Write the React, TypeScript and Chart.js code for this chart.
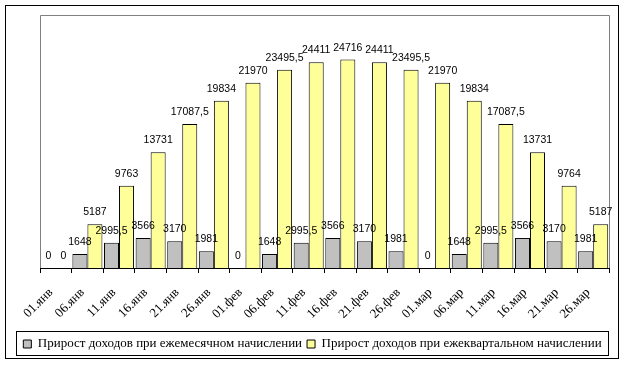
import React, { useEffect, useRef } from "react";
import { Chart, registerables } from "chart.js";

Chart.register(...registerables);

const categories = [
  "01.янв", "06.янв", "11.янв", "16.янв", "21.янв", "26.янв",
  "01.фев", "06.фев", "11.фев", "16.фев", "21.фев", "26.фев",
  "01.мар", "06.мар", "11.мар", "16.мар", "21.мар", "26.мар",
];

const monthlyGain = [0, 1648, 2995.5, 3566, 3170, 1981, 0, 1648, 2995.5, 3566, 3170, 1981, 0, 1648, 2995.5, 3566, 3170, 1981];
const quarterlyGain = [0, 5187, 9763, 13731, 17087.5, 19834, 21970, 23495.5, 24411, 24716, 24411, 23495.5, 21970, 19834, 17087.5, 13731, 9764, 5187];

const seriesNames = [
  "Прирост доходов при ежемесячном начислении",
  "Прирост доходов при ежеквартальном начислении",
];

const fmt = (v: number) => String(v).replace(".", ",");

const framePlugin = {
  id: "frame",
  beforeDraw(chart: any) {
    const { ctx, chartArea } = chart;
    ctx.save();
    ctx.fillStyle = "#ffffff";
    ctx.fillRect(0, 0, chart.width, chart.height);
    ctx.strokeStyle = "#000000";
    ctx.lineWidth = 1;
    ctx.strokeRect(5.5, 5.5, 613, 353);
    ctx.strokeStyle = "#808080";
    ctx.beginPath();
    ctx.moveTo(Math.round(chartArea.left) + 0.5, Math.round(chartArea.bottom));
    ctx.lineTo(Math.round(chartArea.left) + 0.5, Math.round(chartArea.top) + 0.5);
    ctx.lineTo(Math.round(chartArea.right) + 0.5, Math.round(chartArea.top) + 0.5);
    ctx.lineTo(Math.round(chartArea.right) + 0.5, Math.round(chartArea.bottom));
    ctx.stroke();
    ctx.restore();
  },
  afterDraw(chart: any) {
    const { ctx } = chart;
    ctx.save();
    ctx.strokeStyle = "#000000";
    ctx.lineWidth = 1;
    ctx.strokeRect(16.5, 331.5, 592, 24);
    ctx.restore();
  },
};

const labelPlugin = {
  id: "valueLabels",
  afterDatasetsDraw(chart: any) {
    const { ctx } = chart;
    ctx.save();
    ctx.font = "10.5px 'Liberation Sans'";
    ctx.fillStyle = "#000000";
    ctx.textAlign = "center";
    ctx.textBaseline = "alphabetic";
    chart.data.datasets.forEach((ds: any, di: number) => {
      const meta = chart.getDatasetMeta(di);
      meta.data.forEach((bar: any, i: number) => {
        const v = ds.data[i];
        ctx.fillText(fmt(v), bar.x, bar.y - 9);
      });
    });
    ctx.restore();
  },
};

export default function App() {
  const ref = useRef<HTMLCanvasElement>(null);
  useEffect(() => {
    if (!ref.current) return;
    const chart = new Chart(ref.current, {
      type: "bar",
      data: {
        labels: categories,
        datasets: [
          {
            label: seriesNames[0],
            data: monthlyGain,
            backgroundColor: "#C0C0C0",
            borderColor: "#000000",
            borderWidth: 1,
            categoryPercentage: 0.95,
            barPercentage: 1,
          },
          {
            label: seriesNames[1],
            data: quarterlyGain,
            backgroundColor: "#FFFF99",
            borderColor: "#000000",
            borderWidth: 1,
            categoryPercentage: 0.95,
            barPercentage: 1,
          },
        ],
      },
      options: {
        responsive: false,
        animation: false,
        layout: { padding: { left: 16, right: 16, top: 15, bottom: 4.5 } },
        plugins: {
          tooltip: { enabled: false },
          legend: {
            position: "bottom",
            labels: {
              boxWidth: 8,
              boxHeight: 8,
              padding: 5,
              color: "#000000",
              font: { family: "'Liberation Serif'", size: 13 },
            },
          },
        },
        scales: {
          x: {
            afterFit: (s: any) => {
              s.height = 64.5;
            },
            grid: {
              display: true,
              offset: true,
              drawOnChartArea: false,
              drawTicks: true,
              tickLength: 5,
              color: "#000000",
            },
            border: { display: true, color: "#000000" },
            ticks: {
              autoSkip: false,
              minRotation: 45,
              maxRotation: 45,
              padding: 12,
              labelOffset: -5,
              color: "#000000",
              font: { family: "'Liberation Serif'", size: 13 },
            },
          },
          y: {
            min: 0,
            max: 30000,
            afterFit: (s: any) => {
              s.width = 24;
            },
            grid: { display: false },
            border: { display: false },
            ticks: { display: false },
          },
        },
      },
      plugins: [framePlugin, labelPlugin],
    });
    return () => chart.destroy();
  }, []);
  return (
    <div style={{ position: "absolute", left: 0, top: 0, width: 625, height: 365 }}>
      <canvas ref={ref} width={625} height={365} />
    </div>
  );
}
